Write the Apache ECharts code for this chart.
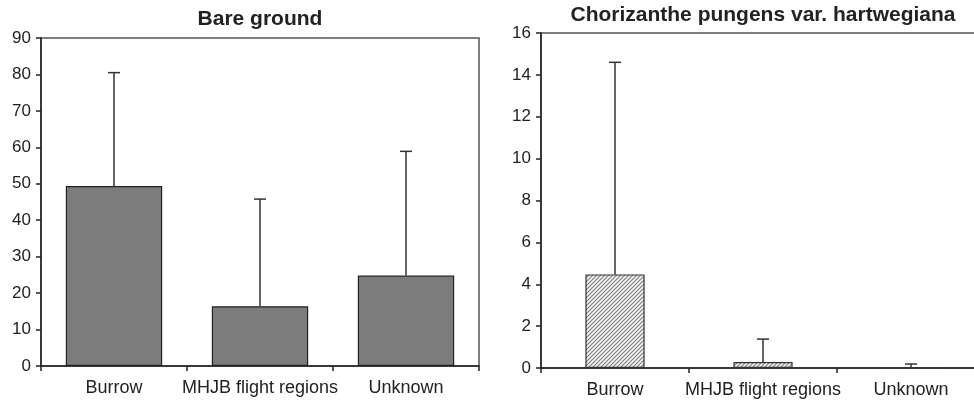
<!DOCTYPE html>
<html>
<head>
<meta charset="utf-8">
<script src="https://cdn.jsdelivr.net/npm/echarts@6/dist/echarts.min.js"></script>
<style>
html,body{margin:0;padding:0;background:#fff;}
#chart{width:974px;height:400px;}
</style>
</head>
<body>
<div id="chart"></div>
<script>
// ---- data ----
var categories = ['Burrow', 'MHJB flight regions', 'Unknown'];
var bareTitle = 'Bare ground';
var bareMean = [49.4, 16.4, 24.8];
var bareUpper = [80.5, 45.8, 58.9];
var choTitle = 'Chorizanthe pungens var. hartwegiana';
var choMean = [4.47, 0.29, 0.0];
var choUpper = [14.6, 1.38, 0.19];
var bareTicks = [0, 10, 20, 30, 40, 50, 60, 70, 80, 90];
var choTicks = [0, 2, 4, 6, 8, 10, 12, 14, 16];

// hatch pattern
var pat = document.createElement('canvas');
pat.width = 4; pat.height = 4;
var pc = pat.getContext('2d');
pc.fillStyle = '#f6f6f6';
pc.fillRect(0, 0, 4, 4);
pc.strokeStyle = '#808080';
pc.lineWidth = 1.2;
pc.beginPath();
pc.moveTo(-1, 5); pc.lineTo(5, -1);
pc.moveTo(-1, 1); pc.lineTo(1, -1);
pc.moveTo(3, 5); pc.lineTo(5, 3);
pc.stroke();

var FONT = 'Liberation Sans, Arial, sans-serif';

function errRender(params, api) {
  var x = api.value(0);
  var low = api.coord([x, api.value(1)]);
  var high = api.coord([x, api.value(2)]);
  var half = 6;
  var st = { stroke: '#333', lineWidth: 1.5 };
  return {
    type: 'group',
    children: [
      { type: 'line', shape: { x1: low[0], y1: low[1], x2: high[0], y2: high[1] }, style: st },
      { type: 'line', shape: { x1: high[0] - half, y1: high[1], x2: high[0] + half, y2: high[1] }, style: st }
    ]
  };
}

function errData(mean, upper) {
  return mean.map(function (m, i) { return [i, m, upper[i]]; });
}

function xAxis(gi) {
  return {
    type: 'category', gridIndex: gi, data: categories, boundaryGap: true,
    axisLine: { lineStyle: { color: '#222', width: 1.5 } },
    axisTick: { show: true, length: 5, inside: false, lineStyle: { color: '#222', width: 1.5 } },
    axisLabel: { color: '#222', fontSize: 18, fontFamily: FONT, margin: 13, interval: 0 }
  };
}
function yAxis(gi, max, interval) {
  return {
    type: 'value', gridIndex: gi, min: 0, max: max, interval: interval,
    splitLine: { show: false },
    axisLine: { show: true, lineStyle: { color: '#222', width: 1.5 } },
    axisTick: { show: true, length: 5, lineStyle: { color: '#222', width: 1.5 } },
    axisLabel: { color: '#222', fontSize: 17, fontFamily: FONT, margin: 10 }
  };
}

var chart = echarts.init(document.getElementById('chart'), null, { renderer: 'canvas' });
chart.setOption({
  animation: false,
  backgroundColor: '#fff',
  title: [
    { text: bareTitle, left: 260, top: 9, textAlign: 'center', padding: 0,
      textStyle: { fontSize: 21, fontWeight: 'bold', color: '#222', fontFamily: FONT } },
    { text: choTitle, left: 763, top: 5, textAlign: 'center', padding: 0,
      textStyle: { fontSize: 21, fontWeight: 'bold', color: '#222', fontFamily: FONT } }
  ],
  grid: [
    { left: 41, top: 38, width: 438, bottom: 34, show: true, borderColor: '#555', borderWidth: 1.5,
      backgroundColor: 'transparent', containLabel: false, outerBoundsMode: 'none' },
    { left: 541, top: 33, width: 444, bottom: 32, show: true, borderColor: '#555', borderWidth: 1.5,
      backgroundColor: 'transparent', containLabel: false, outerBoundsMode: 'none' }
  ],
  xAxis: [xAxis(0), xAxis(1)],
  yAxis: [yAxis(0, bareTicks[bareTicks.length - 1], bareTicks[1] - bareTicks[0]),
          yAxis(1, choTicks[choTicks.length - 1], choTicks[1] - choTicks[0])],
  series: [
    { type: 'bar', xAxisIndex: 0, yAxisIndex: 0, data: bareMean, barWidth: '66%',
      itemStyle: { color: '#7c7c7c', borderColor: '#222', borderWidth: 1.2 }, z: 2 },
    { type: 'custom', xAxisIndex: 0, yAxisIndex: 0, data: errData(bareMean, bareUpper),
      renderItem: errRender, z: 3 },
    { type: 'bar', xAxisIndex: 1, yAxisIndex: 1, data: choMean, barWidth: '40%',
      itemStyle: { color: { image: pat, repeat: 'repeat' }, borderColor: '#333', borderWidth: 1.2 }, z: 2 },
    { type: 'custom', xAxisIndex: 1, yAxisIndex: 1, data: errData(choMean, choUpper),
      renderItem: errRender, z: 3 }
  ]
});
</script>
</body>
</html>
